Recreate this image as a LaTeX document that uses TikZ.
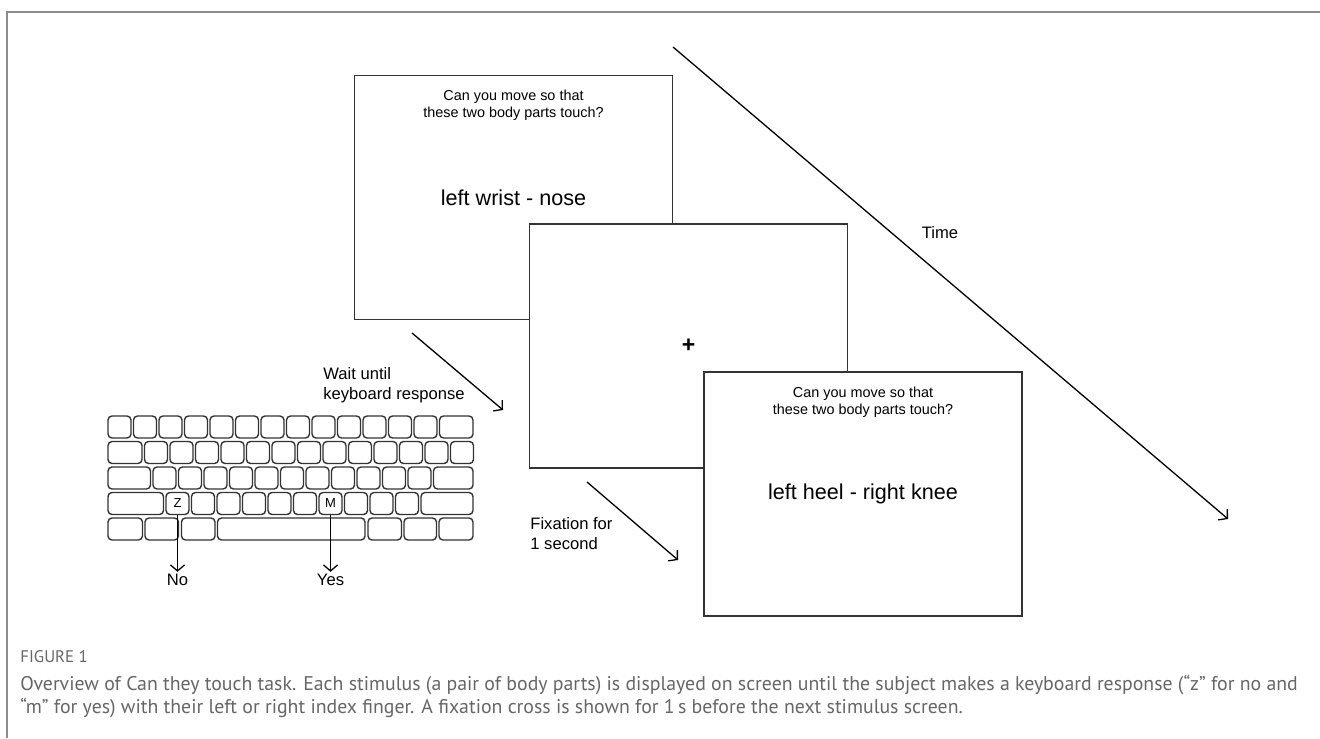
\documentclass[tikz,border=0pt]{standalone}
\usepackage{fontspec}
\setmainfont{Liberation Sans}
\newfontfamily\capfont{PT Sans}
\usetikzlibrary{arrows.meta}
\usetikzlibrary{positioning}

\tikzset{
  screen/.style={draw=black!80, line width=0.9pt, fill=white, minimum width=159pt, minimum height=122pt, inner sep=0pt},
  question/.style={align=center, inner sep=0pt, font=\fontsize{7.2}{8.6}\selectfont},
  pair/.style={inner sep=0pt, font=\fontsize{10.8}{13}\selectfont},
  note/.style={align=left, inner sep=0pt, font=\fontsize{8.3}{10}\selectfont},
  kbkey/.style={draw=black!80, line width=0.7pt, rounded corners=2pt},
  keynode/.style={kbkey, fill=white, minimum width=11.5pt, minimum height=11pt, inner sep=0pt, font=\fontsize{6.5}{7}\selectfont},
  flow/.style={-{Straight Barb[length=3pt,width=7pt]}, line width=0.65pt},
  caption/.style={anchor=west, inner sep=0pt, text=black!60, font=\capfont\fontsize{9.9}{12}\selectfont},
}

\begin{document}
\begin{tikzpicture}[x=0.5pt, y=-0.5pt]
    \useasboundingbox (0,0) rectangle (1320,738);
    \draw [black!45, line width=0.75pt] (7,738) -- (7,12) -- (1320,12);

    % screens
    \node [screen] (scr1) at (513.5,197.5) {};
    \node [question] (q1) at ([yshift=-15.5pt]scr1.north) {Can you move so that\\these two body parts touch?};
    \node [pair] (p1) at (scr1.center) {left wrist - nose};
    \node [screen] (scr2) at (688.5,346) {};
    \node [pair, font=\bfseries\fontsize{11.5}{13}\selectfont] (cross) at (scr2.center) {+};
    \node [screen] (scr3) at (863,494) {};
    \node [question] (q3) at ([yshift=-15.5pt]scr3.north) {Can you move so that\\these two body parts touch?};
    \node [pair] (p3) at (scr3.center) {left heel - right knee};

    % time line
    \coordinate (t0) at (673,47);
    \coordinate (t1) at (1228,519);
    \draw [flow] (t0) -- (t1);
    \node [note] (time) at (940,233) {Time};

    \coordinate (w0) at (412,333);
    \coordinate (w1) at (503,410);
    \draw [flow] (w0) -- (w1);
    \node [note, anchor=west] (wait) at (323,385) {Wait until\\keyboard response};

    \coordinate (f0) at (587,482);
    \coordinate (f1) at (678,560);
    \draw [flow] (f0) -- (f1);
    \node [note, anchor=west] (fix) at (530,534) {Fixation for\\1 second};

    % keyboard
    \foreach \i in {0,...,12} \draw [kbkey] (108+25.5*\i,416) rectangle ++(23,22);
    \draw [kbkey] (439.5,416) rectangle (473,438);
    \draw [kbkey] (108,441.5) rectangle (142,463.5);
    \foreach \i in {0,...,12} \draw [kbkey] (144.5+25.5*\i,441.5) rectangle ++(23,22);
    \draw [kbkey] (108,467) rectangle (150.5,489);
    \foreach \i in {0,...,10} \draw [kbkey] (153+25.5*\i,467) rectangle ++(23,22);
    \draw [kbkey] (433.5,467) rectangle (473,489);
    \draw [kbkey] (108,492.5) rectangle (163.5,514.5);
    \foreach \i in {1,2,3,4,5,7,8,9} \draw [kbkey] (166+25.5*\i,492.5) rectangle ++(23,22);
    \draw [kbkey] (421,492.5) rectangle (473,514.5);
    \foreach \a/\b in {108/142.5, 145/178.5, 181.5/215, 217.5/365, 368/401.5, 404/436.5, 439/473}
      \draw [kbkey] (\a,518) rectangle (\b,540);
    \node [keynode] (zkey) at (177.5,503.5) {Z};
    \node [keynode] (mkey) at (330.5,503.5) {M};

    \node [note, inner sep=1pt] (no) at (177.5,580) {No};
    \node [note, inner sep=1pt] (yes) at (330.5,580) {Yes};
    \draw [flow] (zkey.south) -- (no.north);
    \draw [flow] (mkey.south) -- (yes.north);

    % caption
    \node [caption, font=\capfont\fontsize{8.4}{10}\selectfont] (fig) at (20,657) {FIGURE 1};
    \node [caption] (cap1) at (20,685) {Overview of Can they touch task. Each stimulus (a pair of body parts) is displayed on screen until the subject makes a keyboard response (“z” for no and};
    \node [caption] (cap2) at (20,708) {“m” for yes) with their left or right index finger. A fixation cross is shown for 1\,s before the next stimulus screen.};
\end{tikzpicture}
\end{document}
